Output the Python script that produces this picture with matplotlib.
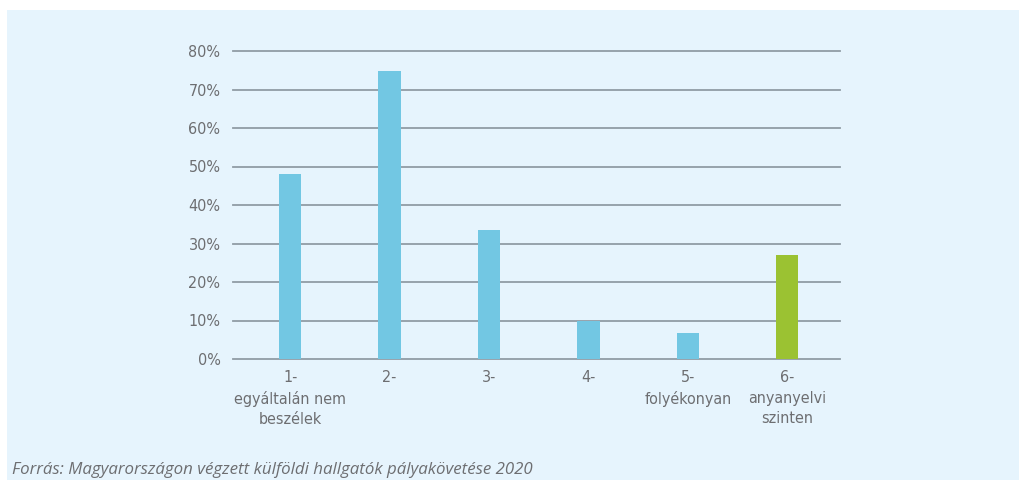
import matplotlib.pyplot as plt
from matplotlib.patches import Rectangle

categories = ["1-\negyáltalán nem\nbeszélek", "2-", "3-", "4-", "5-\nfolyékonyan", "6-\nanyanyelvi\nszinten"]
values = [48, 74.8, 33.5, 9.9, 6.8, 27]
colors = ["#72c7e3", "#72c7e3", "#72c7e3", "#72c7e3", "#72c7e3", "#9bc232"]
yticks = [0, 10, 20, 30, 40, 50, 60, 70, 80]
source = "Forrás: Magyarországon végzett külföldi hallgatók pályakövetése 2020"

bg = "#e6f4fd"
text_color = "#6d6e71"
font = dict(family="DejaVu Sans", stretch="condensed", fontsize=11.5, color=text_color)

fig = plt.figure(figsize=(10.2, 4.8), dpi=100)
fig.patch.set_facecolor("white")
# light blue panel behind everything
fig.patches.append(Rectangle((7 / 1020, 0), 1.1, 1 - 10 / 480, transform=fig.transFigure,
                             facecolor=bg, edgecolor="none", zorder=-5))

ax = fig.add_axes([233 / 1020, 1 - 359 / 480, 607 / 1020, 308 / 480])
ax.set_zorder(2)
ax.set_facecolor("none")

x = list(range(len(categories)))
ax.bar(x, values, width=0.225, color=colors, zorder=3)

ax.set_ylim(0, 80)
ax.set_xlim(-0.575, 5.53)
ax.set_yticks(yticks)
ax.set_yticklabels([f"{t}%" for t in yticks], **font)
ax.set_xticks(x)
ax.set_xticklabels(categories, linespacing=1.45, **font)
ax.tick_params(axis="both", length=0)
ax.tick_params(axis="y", pad=9)
ax.tick_params(axis="x", pad=8)
ax.grid(axis="y", color="#909ca5", linewidth=1.3, zorder=1)
for line in ax.get_ygridlines():
    line.set_clip_on(False)
for s in ax.spines.values():
    s.set_visible(False)

fig.text(12 / 1020, 1 - 470 / 480, source, family=["Open Sans", "DejaVu Sans"], style="italic",
         fontsize=12.2, color=text_color, va="center", ha="left")

fig.savefig("out.png", dpi=100, facecolor=fig.get_facecolor())
